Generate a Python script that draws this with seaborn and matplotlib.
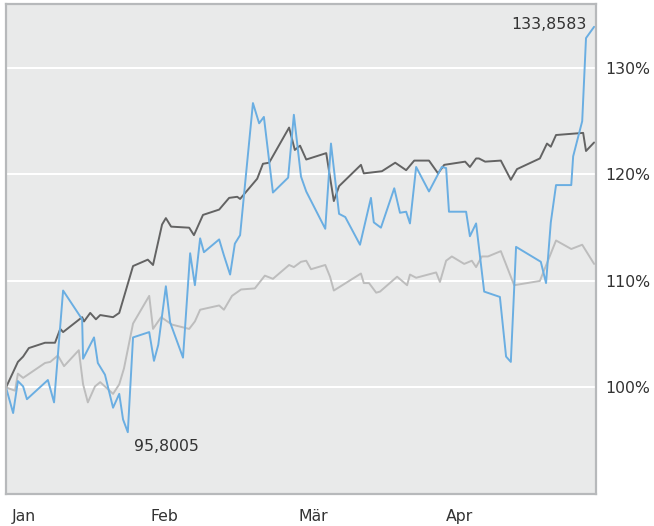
import matplotlib
matplotlib.use("Agg")
import matplotlib.pyplot as plt
import matplotlib.transforms as mtransforms
import seaborn as sns
import pandas as pd

# ---- data (x = days since 1 Jan on a 31-day-per-month axis) ----
month_labels = ["Jan", "Feb", "Mär", "Apr"]
month_pos = [0, 31, 62, 93]
y_ticks = [100, 110, 120, 130]
y_tick_labels = ["100%", "110%", "120%", "130%"]

dark_x = [0, 2.5, 3.6, 4.8, 8.2, 10.3, 11.4, 12.0, 16.0, 16.4, 17.7, 18.9, 19.8,
          22.5, 23.8, 26.7, 29.8, 30.9, 32.8, 33.6, 34.7, 38.5, 39.5, 41.4, 44.8,
          46.9, 48.6, 49.2, 52.8, 54.0, 55.3, 59.5, 60.7, 61.8, 63.1, 67.3, 68.9,
          70.0, 74.6, 75.2, 79.0, 81.8, 84.1, 85.8, 88.9, 90.8, 92.1, 96.5, 97.5,
          98.8, 99.4, 100.7, 104.0, 106.1, 107.4, 112.2, 113.7, 114.5, 115.6,
          121.3, 121.9, 123.6]
dark_y = [100.0, 102.4, 102.9, 103.7, 104.2, 104.2, 105.5, 105.2, 106.6, 106.2,
          107.0, 106.4, 106.8, 106.6, 107.0, 111.4, 112.0, 111.5, 115.3, 115.9,
          115.1, 115.0, 114.3, 116.2, 116.7, 117.8, 117.9, 117.7, 119.6, 121.0,
          121.1, 124.4, 122.3, 122.7, 121.4, 122.0, 117.5, 118.9, 120.9, 120.1,
          120.3, 121.1, 120.4, 121.3, 121.3, 120.1, 120.9, 121.2, 120.7, 121.5,
          121.5, 121.2, 121.3, 119.5, 120.5, 121.5, 122.9, 122.6, 123.7, 123.9,
          122.2, 123.0]

blue_x = [0, 1.5, 2.5, 3.6, 4.4, 8.8, 10.1, 12.0, 16.0, 16.2, 18.5, 19.3, 20.8,
          22.5, 23.8, 24.6, 25.6, 26.7, 30.1, 31.1, 32.0, 33.6, 34.5, 37.2, 38.7,
          39.7, 40.8, 41.6, 44.8, 45.8, 47.1, 48.1, 49.2, 51.9, 53.2, 54.2, 56.1,
          59.3, 60.5, 62.0, 63.1, 67.1, 68.3, 70.0, 71.3, 74.4, 76.7, 77.3, 78.8,
          81.6, 82.8, 84.1, 84.9, 86.2, 88.9, 91.6, 92.5, 93.1, 96.7, 97.5, 98.8,
          100.5, 103.8, 105.1, 106.1, 107.2, 112.4, 113.5, 114.5, 115.6, 118.8,
          119.2, 121.1, 121.9, 123.6]
blue_y = [100.0, 97.6, 100.6, 100.1, 98.9, 100.7, 98.6, 109.1, 106.4, 102.7,
          104.7, 102.3, 101.2, 98.1, 99.4, 97.0, 95.8005, 104.7, 105.2, 102.5,
          104.0, 109.5, 106.1, 102.8, 112.6, 109.6, 114.0, 112.7, 113.9, 112.4,
          110.6, 113.5, 114.3, 126.7, 124.8, 125.4, 118.3, 119.7, 125.6, 119.8,
          118.4, 114.9, 122.9, 116.3, 116.0, 113.4, 117.8, 115.5, 115.0, 118.7,
          116.4, 116.5, 115.4, 120.7, 118.4, 120.7, 120.6, 116.5, 116.5, 114.2,
          115.4, 109.0, 108.5, 102.9, 102.4, 113.2, 111.8, 109.8, 115.5, 119.0,
          119.0, 121.7, 125.0, 132.8, 133.8583]

light_x = [0, 1.9, 2.5, 3.6, 8.2, 9.3, 10.9, 12.2, 15.3, 16.2, 17.2, 18.7, 19.8,
           22.5, 23.8, 24.8, 26.7, 30.1, 30.9, 32.6, 34.9, 38.5, 39.7, 40.8, 44.8,
           45.8, 47.5, 49.4, 52.3, 54.4, 56.1, 59.5, 60.5, 62.0, 63.1, 64.1, 67.1,
           68.1, 68.9, 74.6, 75.2, 76.3, 77.8, 78.6, 82.2, 84.3, 84.9, 86.2, 90.4,
           91.2, 92.5, 93.7, 96.3, 97.9, 98.8, 100.0, 101.3, 104.0, 106.8, 112.2,
           115.6, 118.8, 121.1, 123.6]
light_y = [100.0, 99.7, 101.3, 100.9, 102.3, 102.4, 103.0, 102.0, 103.5, 100.3,
           98.6, 100.1, 100.5, 99.4, 100.3, 101.8, 106.0, 108.6, 105.5, 106.6,
           105.9, 105.5, 106.2, 107.3, 107.7, 107.3, 108.6, 109.2, 109.3, 110.5,
           110.2, 111.5, 111.3, 111.8, 111.9, 111.1, 111.5, 110.4, 109.1, 110.7,
           109.8, 109.8, 108.9, 109.0, 110.4, 109.6, 110.6, 110.3, 110.8, 109.9,
           111.9, 112.3, 111.6, 111.9, 111.3, 112.3, 112.3, 112.8, 109.6, 110.0,
           113.8, 113.0, 113.4, 111.6]

max_label = "133,8583"
min_label = "95,8005"

# ---- styling ----
bg = "#e9eaea"
spine_c = "#b7b9bb"
text_c = "#333333"

sns.set_theme(style="white", rc={"axes.facecolor": bg})
plt.rcParams["font.family"] = ["DejaVu Sans"]

W, H = 654, 526
fig = plt.figure(figsize=(W / 100, H / 100), dpi=100)
ax = fig.add_axes([6 / W, (H - 494) / H, (596 - 6) / W, (494 - 4) / H])
ax.set_facecolor(bg)

df = pd.concat([
    pd.DataFrame({"x": light_x, "y": light_y, "s": "light"}),
    pd.DataFrame({"x": dark_x, "y": dark_y, "s": "dark"}),
    pd.DataFrame({"x": blue_x, "y": blue_y, "s": "blue"}),
], ignore_index=True)

palette = {"light": "#bdbdbd", "dark": "#636363", "blue": "#6aaee2"}
sns.lineplot(data=df, x="x", y="y", hue="s", palette=palette, ax=ax,
             linewidth=1.4, legend=False, sort=False, estimator=None)

ax.set_xlim(0, 124)
ax.set_ylim(90, 136)
ax.set_xlabel("")
ax.set_ylabel("")

# grid
for yv in y_ticks:
    ax.axhline(yv, color="white", linewidth=1.5, zorder=0.5)

# y axis on the right
ax.yaxis.tick_right()
ax.set_yticks(y_ticks)
ax.set_yticklabels(y_tick_labels)
ax.tick_params(axis="y", length=0, pad=7, labelsize=11.3, labelcolor=text_c)

ax.set_xticks(month_pos)
ax.set_xticklabels(month_labels)
ax.tick_params(axis="x", length=6, width=1.6, color=spine_c, pad=5,
               labelsize=11.3, labelcolor=text_c)
for i, lab in enumerate(ax.get_xticklabels()):
    lab.set_horizontalalignment("left")
    dx = 6 if i == 0 else -3
    lab.set_transform(lab.get_transform() +
                      mtransforms.ScaledTranslation(dx / 100, 0, fig.dpi_scale_trans))

for s in ax.spines.values():
    s.set_visible(True)
    s.set_color(spine_c)
    s.set_linewidth(1.6)

# annotations
ax.annotate(max_label, xy=(blue_x[-1], blue_y[-1]), xytext=(-7, 2),
            textcoords="offset pixels", ha="right", va="center",
            fontsize=11.3, color=text_c)
imin = blue_y.index(min(blue_y))
ax.annotate(min_label, xy=(blue_x[imin], blue_y[imin]), xytext=(6, -14),
            textcoords="offset pixels", ha="left", va="center",
            fontsize=11.3, color=text_c)

fig.savefig("out.png", dpi=100)
